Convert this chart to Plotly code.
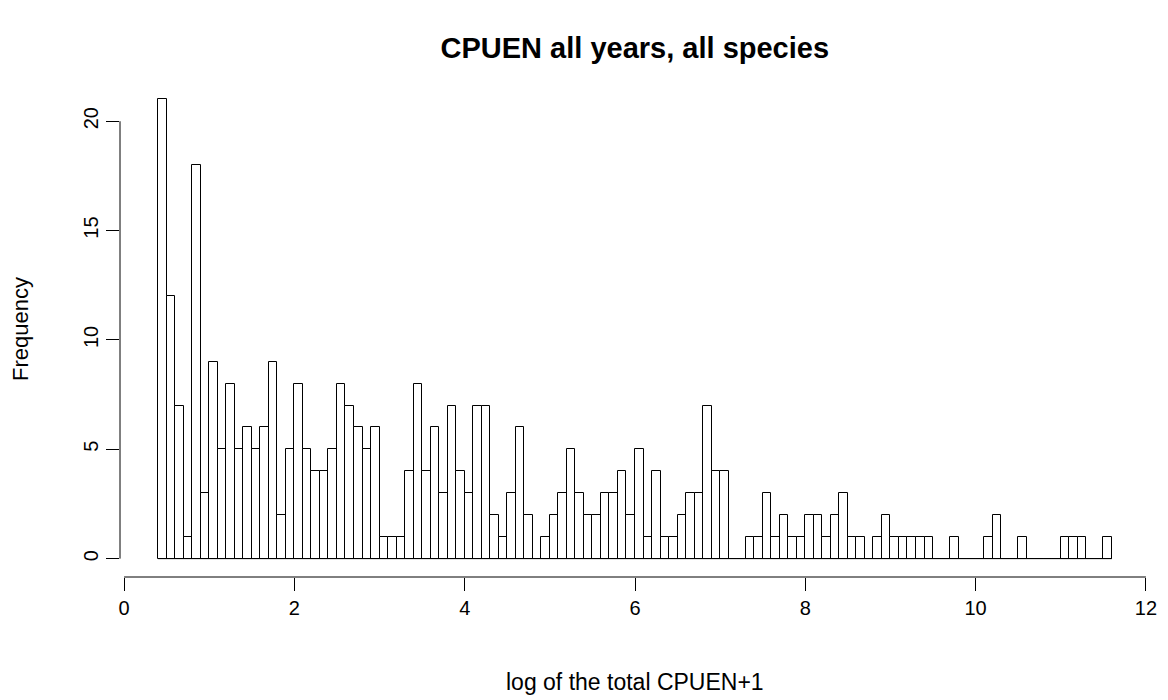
import plotly.graph_objects as go

# Histogram of log(total CPUEN + 1): bins of width 0.1 starting at 0.4
bin_start = 0.4
bin_width = 0.1
counts = [21, 12, 7, 1, 18, 3, 9, 5, 8, 5,
          6, 5, 6, 9, 2, 5, 8, 5, 4, 4,
          5, 8, 7, 6, 5, 6, 1, 1, 1, 4,
          8, 4, 6, 3, 7, 4, 3, 7, 7, 2,
          1, 3, 6, 2, 0, 1, 2, 3, 5, 3,
          2, 2, 3, 3, 4, 2, 5, 1, 4, 1,
          1, 2, 3, 3, 7, 4, 4, 0, 0, 1,
          1, 3, 1, 2, 1, 1, 2, 2, 1, 2,
          3, 1, 1, 0, 1, 2, 1, 1, 1, 1,
          1, 0, 0, 1, 0, 0, 0, 1, 2, 0,
          0, 1, 0, 0, 0, 0, 1, 1, 1, 0,
          0, 1]
x_ticks = [0, 2, 4, 6, 8, 10, 12]
y_ticks = [0, 5, 10, 15, 20]
title = "CPUEN all years, all species"
x_label = "log of the total CPUEN+1"
y_label = "Frequency"

centers = [round(bin_start + bin_width * (i + 0.5), 4) for i in range(len(counts))]
edge_lo = bin_start
edge_hi = round(bin_start + bin_width * len(counts), 4)

FONT = "Liberation Sans, Arial, sans-serif"

fig = go.Figure()
fig.add_trace(go.Bar(
    x=centers, y=counts, width=bin_width,
    marker=dict(color="white", line=dict(color="black", width=1)),
    hoverinfo="x+y", showlegend=False,
))
# zero-height bins still draw a baseline in R
fig.add_trace(go.Scatter(
    x=[edge_lo, edge_hi], y=[0, 0], mode="lines",
    line=dict(color="black", width=1), hoverinfo="skip", showlegend=False,
))

xr = [edge_lo - 0.04 * (edge_hi - edge_lo), edge_hi + 0.04 * (edge_hi - edge_lo)]
ymax = max(counts)
yr = [-0.04 * ymax, ymax * 1.04]

fig.update_layout(
    width=1168, height=700,
    margin=dict(l=120, r=18, t=81, b=123),
    paper_bgcolor="white", plot_bgcolor="white",
    font=dict(family=FONT, color="black"),
    bargap=0,
    title=dict(text="<b>" + title + "</b>", x=0.5435, xanchor="center",
               y=1 - 48 / 700, yanchor="middle", yref="container",
               font=dict(size=29, family=FONT, color="black")),
    xaxis=dict(range=xr, tickvals=x_ticks, ticktext=[str(v) for v in x_ticks],
               ticks="outside", ticklen=13, tickwidth=1, tickcolor="black",
               showgrid=False, zeroline=False, showline=False,
               tickfont=dict(size=20, family=FONT, color="black")),
    yaxis=dict(range=yr, tickvals=y_ticks, ticktext=[str(v) for v in y_ticks],
               ticks="outside", ticklen=13, tickwidth=1, tickcolor="black",
               tickangle=-90,
               showgrid=False, zeroline=False, showline=False,
               tickfont=dict(size=20, family=FONT, color="black")),
    shapes=[
        dict(type="line", xref="x", yref="paper", x0=x_ticks[0], x1=x_ticks[-1],
             y0=0, y1=0, line=dict(color="black", width=1)),
        dict(type="line", xref="paper", yref="y", x0=0, x1=0,
             y0=y_ticks[0], y1=y_ticks[-1], line=dict(color="black", width=1)),
    ],
    annotations=[
        dict(text=x_label, xref="paper", yref="paper", x=0.5, y=0,
             xanchor="center", yanchor="middle", yshift=-105, showarrow=False,
             font=dict(size=23, family=FONT, color="black")),
        dict(text=y_label, xref="paper", yref="paper", x=0, y=0.5,
             xanchor="center", yanchor="middle", xshift=-100, textangle=-90,
             showarrow=False, font=dict(size=22, family=FONT, color="black")),
    ],
)

fig.write_html("out.html")
